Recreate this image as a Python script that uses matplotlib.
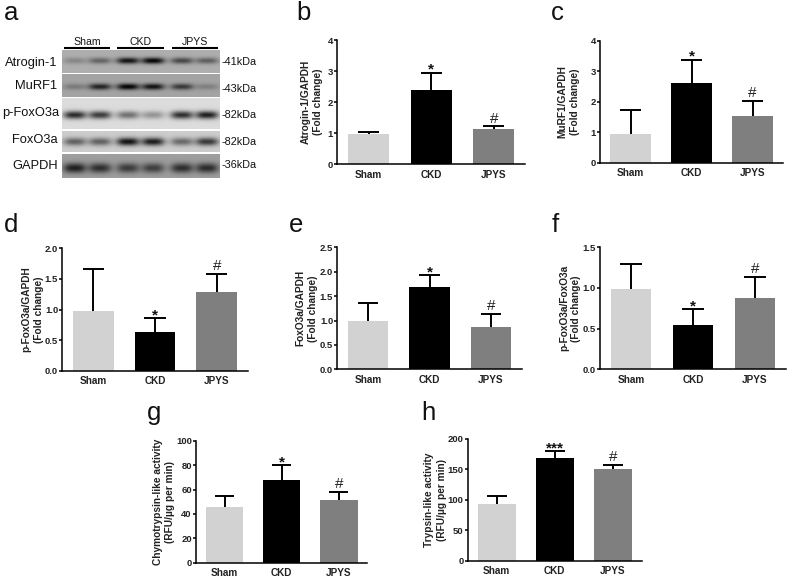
import matplotlib
matplotlib.use("Agg")
import matplotlib.pyplot as plt
import numpy as np

plt.rcParams['font.family'] = ['Liberation Sans', 'DejaVu Sans']

W, H = 787, 578

groups = ['Sham', 'CKD', 'JPYS']
bar_colors = ['#d2d2d2', '#000000', '#7f7f7f']

# values: bar height and top of the error bar
atrogin = [0.97, 2.38, 1.12]
atrogin_top = [1.05, 2.95, 1.22]
murf = [0.95, 2.62, 1.52]
murf_top = [1.73, 3.38, 2.02]
pfox = [0.98, 0.64, 1.28]
pfox_top = [1.66, 0.86, 1.58]
fox = [0.98, 1.68, 0.87]
fox_top = [1.36, 1.93, 1.13]
ratio = [0.99, 0.54, 0.88]
ratio_top = [1.30, 0.74, 1.14]
chymo = [46, 68, 51]
chymo_top = [55, 80, 58]
tryp = [94, 168, 151]
tryp_top = [107, 180, 158]

# blot band darkness, one number per lane
blot_names = ['Atrogin-1', 'MuRF1', 'p-FoxO3a', 'FoxO3a', 'GAPDH']
blot_kda = ['-41kDa', '-43kDa', '-82kDa', '-82kDa', '-36kDa']
blot_bands = [
    [0.22, 0.42, 0.88, 0.96, 0.58, 0.45],
    [0.25, 0.78, 0.97, 0.88, 0.65, 0.22],
    [0.80, 0.72, 0.48, 0.32, 0.78, 0.85],
    [0.52, 0.52, 0.90, 0.85, 0.48, 0.72],
    [0.80, 0.70, 0.62, 0.60, 0.70, 0.72],
]
blot_bg = [0.68, 0.64, 0.86, 0.80, 0.62]


def pixel_axes(fig, left, right, top, bottom):
    return fig.add_axes([left / W, 1 - bottom / H, (right - left) / W, (bottom - top) / H])


def bar_panel(fig, box, vals, tops, ylabel, ymax, ticks, fmt, marks, label_x):
    ax = pixel_axes(fig, *box)
    x = np.arange(3)
    ax.bar(x, vals, width=0.66, color=bar_colors)
    # only the upper half of the error bar is drawn
    ax.vlines(x, vals, tops, color='black', lw=1.4)
    ax.hlines(tops, x - 0.17, x + 0.17, color='black', lw=1.4)
    ax.set_xlim(-0.5, 2.5)
    ax.set_ylim(0, ymax)
    ax.set_xticks(x)
    ax.set_xticklabels(groups, fontsize=7.2, fontweight='bold', color='#222222')
    ax.set_yticks(ticks)
    ax.set_yticklabels([fmt % t for t in ticks], fontsize=6.8, fontweight='bold', color='#222222')
    ax.tick_params(axis='x', length=0, pad=4)
    ax.tick_params(axis='y', length=2.5, width=1.1, pad=0.5)
    ax.spines['top'].set_visible(False)
    ax.spines['right'].set_visible(False)
    ax.spines['left'].set_linewidth(1.1)
    ax.spines['bottom'].set_linewidth(1.1)
    ax.set_ylabel(ylabel, fontsize=7.3, fontweight='bold', color='#222222', linespacing=1.3)
    ax.yaxis.set_label_coords(label_x, 0.5)
    for i, m in enumerate(marks):
        if m == '#':
            ax.annotate(m, (i, tops[i]), xytext=(0, 0.5), textcoords='offset points',
                        ha='center', va='bottom', fontsize=11, color='#222222')
        elif m:
            ax.annotate(m, (i, tops[i]), xytext=(0, -3), textcoords='offset points',
                        ha='center', va='bottom', fontsize=11, fontweight='bold', color='#111111')
    return ax


fig = plt.figure(figsize=(W / 100, H / 100), dpi=100)

m1 = ['', '*', '#']
bar_panel(fig, (337.3, 525, 40, 164.3), atrogin, atrogin_top, 'Atrogin-1/GAPDH\n(Fold change)',
          4, [0, 1, 2, 3, 4], '%d', m1, -0.075)
bar_panel(fig, (600, 783, 40.7, 162.7), murf, murf_top, 'MuRF1/GAPDH\n(Fold change)',
          4, [0, 1, 2, 3, 4], '%d', m1, -0.11)
bar_panel(fig, (62.3, 247.7, 248.3, 370.7), pfox, pfox_top, 'p-FoxO3a/GAPDH\n(Fold change)',
          2, [0, 0.5, 1, 1.5, 2], '%.1f', m1, -0.1)
bar_panel(fig, (337.3, 521.7, 247.3, 369.3), fox, fox_top, 'FoxO3a/GAPDH\n(Fold change)',
          2.5, [0, 0.5, 1, 1.5, 2, 2.5], '%.1f', m1, -0.105)
bar_panel(fig, (600, 786, 247.3, 369.3), ratio, ratio_top, 'p-FoxO3a/FoxO3a\n(Fold change)',
          1.5, [0, 0.5, 1, 1.5], '%.1f', m1, -0.1)
bar_panel(fig, (196, 367.3, 440.7, 562.7), chymo, chymo_top, 'Chymotrypsin-like activity\n(RFU/µg per min)',
          100, [0, 20, 40, 60, 80, 100], '%d', m1, -0.12)
bar_panel(fig, (467.7, 641.7, 439, 560.7), tryp, tryp_top, 'Trypsin-like activity\n(RFU/µg per min)',
          200, [0, 50, 100, 150, 200], '%d', ['', '***', '#'], -0.12)

# overlay in pixel coordinates for the blot and the panel letters
ov = fig.add_axes([0, 0, 1, 1], facecolor='none')
ov.set_axis_off()

lane_x = [75, 100, 128, 153, 182, 207]
strips = [(50, 73, 60.7, 3.2), (74, 97, 86.7, 3.2), (98, 129, 115, 4.0), (131, 152, 141.7, 4.0), (154, 178, 168, 5.0)]
name_y = [63, 86, 113, 140, 166]
kda_y = [62, 89, 115, 142, 165]
name_x = [57, 57, 59, 58, 58]
xx = np.arange(62, 220) + 0.5
for s, (y0, y1, yc, sy) in enumerate(strips):
    yy = np.arange(y0, y1) + 0.5
    gx, gy = np.meshgrid(xx, yy)
    light = np.ones_like(gx)
    for cx, d in zip(lane_x, blot_bands[s]):
        light *= 1 - d * np.exp(-(np.abs(gx - cx) / 11.5) ** 3) * np.exp(-((gy - yc) / sy) ** 2)
    img = blot_bg[s] * light
    ov.imshow(img, extent=(62, 220, y1, y0), cmap='gray', vmin=0, vmax=1, aspect='auto')
    ov.text(name_x[s], name_y[s], blot_names[s], ha='right', va='center', fontsize=9.3, color='#111111')
    ov.text(221.5, kda_y[s], blot_kda[s], ha='left', va='center', fontsize=7.8, color='#111111')

for name, x0, x1 in zip(groups, [64, 117, 172], [110, 164, 218]):
    ov.plot([x0, x1], [47.7, 47.7], color='black', lw=1.5, solid_capstyle='butt')
    ov.text((x0 + x1) / 2, 47, name, ha='center', va='bottom', fontsize=7.6, color='#111111')

letters = [('a', 4, 20), ('b', 296, 20), ('c', 551, 20), ('d', 4, 232), ('e', 289, 232),
           ('f', 552, 232), ('g', 147, 420), ('h', 421, 420)]
for t, lx, ly in letters:
    ov.text(lx, ly, t, ha='left', va='baseline', fontsize=18.5, color='#111111')

ov.set_xlim(0, W)
ov.set_ylim(H, 0)

fig.savefig('out.png', dpi=100)
